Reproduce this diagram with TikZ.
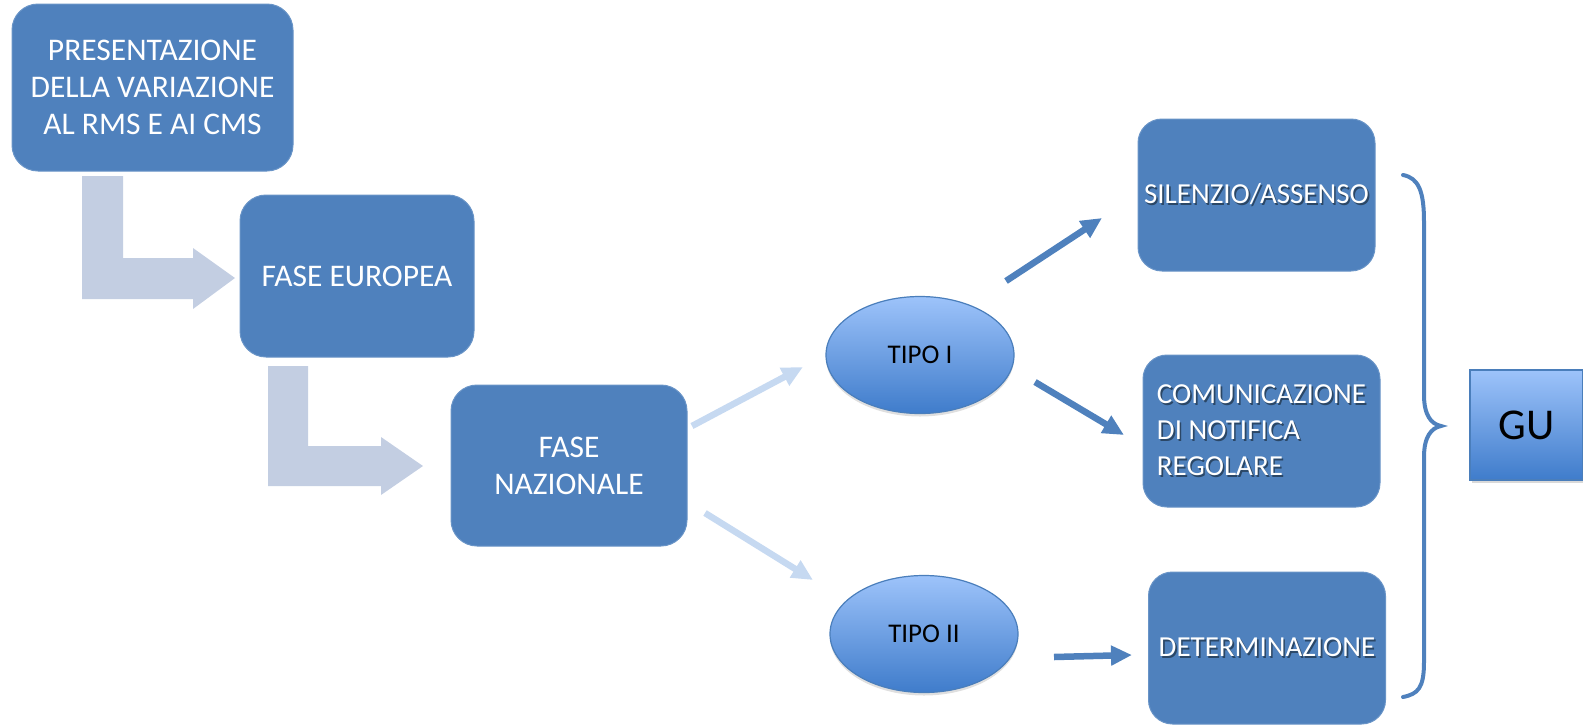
\documentclass[tikz,border=0pt]{standalone}
\usepackage{fontspec}
\setmainfont{Carlito}
\usetikzlibrary{arrows.meta,shadows,shapes.geometric}
\definecolor{boxblue}{HTML}{4F81BD}
\definecolor{lblock}{HTML}{C3CEE2}
\definecolor{larrow}{HTML}{C6D9F1}
\definecolor{elltop}{HTML}{9DC3FA}
\definecolor{ellbot}{HTML}{3F7CCB}
\definecolor{ellline}{HTML}{4A7EBB}
\definecolor{txtshadow}{HTML}{2B4766}
\newcommand\shtxt[1]{\makebox[0pt][l]{\hspace{1.6pt}\raisebox{-1.6pt}{\textcolor{txtshadow}{#1}}}#1}
\begin{document}
\begin{tikzpicture}[x=1pt,y=-1pt,
  bbox/.style={draw=boxblue!85!white, line width=1pt, fill=boxblue, rounded corners=26pt, text=white,
    font=\fontsize{31.5}{37}\selectfont, align=center, inner sep=0pt},
  rbox/.style={bbox, font=\fontsize{29}{36}\selectfont, rounded corners=24pt, minimum width=237pt, minimum height=152pt},
  ell/.style={ellipse, draw=ellline, line width=1.2pt, top color=elltop, bottom color=ellbot,
    font=\fontsize{27}{30}\selectfont, inner sep=0pt, minimum width=188pt, minimum height=117pt,
    drop shadow={opacity=0.25, shadow xshift=0pt, shadow yshift=-3pt}},
  darr/.style={-{Triangle[length=21pt,width=19pt]}, line width=6.5pt, draw=boxblue},
  larr/.style={darr, draw=larrow},
  lblockarr/.style={fill=lblock, draw=none},
]
\useasboundingbox (0,0) rectangle (1583,724);

% L-shaped block arrows
\fill[lblockarr] (82,176) -- (123,176) -- (123,258) -- (193,258) -- (193,248) -- (235,278)
  -- (193,309) -- (193,299) -- (82,299) -- cycle;
\fill[lblockarr] (268,366) -- (308,366) -- (308,446) -- (381,446) -- (381,437) -- (423,466)
  -- (381,495) -- (381,486) -- (268,486) -- cycle;

% left boxes
\node[bbox, minimum width=281pt, minimum height=167pt] (pres) at (152.5,87.5)
  {PRESENTAZIONE\\DELLA VARIAZIONE\\AL RMS E AI CMS};
\node[bbox, minimum width=234pt, minimum height=162pt] (eur) at (357,276) {FASE EUROPEA};
\node[bbox, minimum width=236pt, minimum height=161pt] (naz) at (569,465.5) {FASE\\NAZIONALE};

% ellipses
\node[ell] (t1) at (920,355) {TIPO I};
\node[ell] (t2) at (924,634) {TIPO II};

% right boxes
\node[rbox] (sil) at (1256.5,195) {\shtxt{SILENZIO/ASSENSO}};
\node[rbox, align=left] (com) at (1261.5,431) {\shtxt{COMUNICAZIONE}\\\shtxt{DI NOTIFICA}\\\shtxt{REGOLARE}};
\node[rbox] (det) at (1267,648) {\shtxt{DETERMINAZIONE}};

% GU
\node[draw=ellline, line width=1.2pt, top color=elltop, bottom color=ellbot, minimum width=113pt,
  minimum height=110pt, inner sep=0pt, font=\fontsize{44}{50}\selectfont,
  drop shadow={opacity=0.3, shadow xshift=2pt, shadow yshift=-3pt}] (gu) at (1526.5,425) {GU};

% arrow end points
\coordinate (a1s) at (692,426);  \coordinate (a1e) at (803,367);
\coordinate (a2s) at (705,513);  \coordinate (a2e) at (813,580);
\coordinate (b1s) at (1006,281); \coordinate (b1e) at (1102,218);
\coordinate (b2s) at (1035,382); \coordinate (b2e) at (1124,435);
\coordinate (b3s) at (1054,657); \coordinate (b3e) at (1132,655);

\draw[larr] (a1s) -- (a1e);
\draw[larr] (a2s) -- (a2e);
\draw[darr] (b1s) -- (b1e);
\draw[darr] (b2s) -- (b2e);
\draw[darr] (b3s) -- (b3e);

% brace
\draw[boxblue, line width=4pt, line cap=round]
  (1403,175) .. controls (1419,178) and (1424,192) .. (1424,222) -- (1424,395)
  .. controls (1424,415) and (1431,424) .. (1441,426)
  .. controls (1431,428) and (1424,437) .. (1424,457) -- (1424,662)
  .. controls (1424,688) and (1418,694) .. (1403,697);
\end{tikzpicture}
\end{document}
